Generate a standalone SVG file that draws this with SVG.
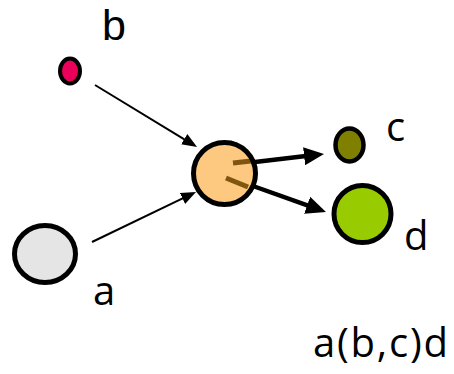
<svg xmlns="http://www.w3.org/2000/svg" width="454" height="374" viewBox="0 0 454 374">
<style>
.node{stroke:#000;stroke-width:5}
.lbl{font-family:"Open Sans","DejaVu Sans",sans-serif;font-size:40px;fill:#000}
.thin{stroke:#000;stroke-width:2;fill:none}
.thick{stroke:#000;stroke-width:4.5;fill:none}
.tick{stroke:#7f5510;stroke-width:5}
</style>
<defs>
<marker id="ah" markerUnits="userSpaceOnUse" markerWidth="16" markerHeight="12" refX="3" refY="6" orient="auto" viewBox="0 0 16 12">
<path d="M0,0 L15,6 L0,12 z" fill="#000"/>
</marker>
<marker id="ahb" markerUnits="userSpaceOnUse" markerWidth="21" markerHeight="18" refX="4" refY="9" orient="auto" viewBox="0 0 21 18">
<path d="M0,0 L20,9 L0,18 z" fill="#000"/>
</marker>
</defs>
<g id="connectors">
<line class="thin" x1="95" y1="85" x2="186.8" y2="140.8" marker-end="url(#ah)"/>
<line class="thin" x1="92" y1="242" x2="185.2" y2="197.2" marker-end="url(#ah)"/>
</g>
<g id="node-center">
<circle cx="224.5" cy="173.5" r="31" fill="#fdc880"/>
<line class="tick" x1="233" y1="163" x2="251" y2="161"/>
<line class="tick" x1="226" y1="178" x2="248" y2="187"/>
<circle class="node" cx="224.5" cy="173.5" r="31" fill="none"/>
</g>
<g id="connectors-out">
<line class="thick" x1="255" y1="162" x2="308.1" y2="155.8" marker-end="url(#ahb)"/>
<line class="thick" x1="253" y1="186" x2="310.9" y2="206.6" marker-end="url(#ahb)"/>
</g>
<g id="node-b">
<ellipse class="node" cx="70" cy="71" rx="10" ry="12.5" fill="#e8005a" style="stroke-width:4"/>
<text class="lbl" x="102" y="40" style="font-family:'Liberation Sans',sans-serif;font-size:43px">b</text>
</g>
<g id="node-a">
<ellipse class="node" cx="45" cy="254" rx="30.5" ry="28.5" fill="#e5e5e5"/>
<text class="lbl" x="93" y="305">a</text>
</g>
<g id="node-c">
<ellipse class="node" cx="349.5" cy="145" rx="14" ry="16.5" fill="#808000" style="stroke-width:4.5"/>
<text class="lbl" x="386" y="141">c</text>
</g>
<g id="node-d">
<circle class="node" cx="362.5" cy="214" r="28.5" fill="#99cc00"/>
<text class="lbl" x="404" y="250">d</text>
</g>
<text class="lbl" x="313" y="357" textLength="135" lengthAdjust="spacing">a(b,c)d</text>
</svg>
